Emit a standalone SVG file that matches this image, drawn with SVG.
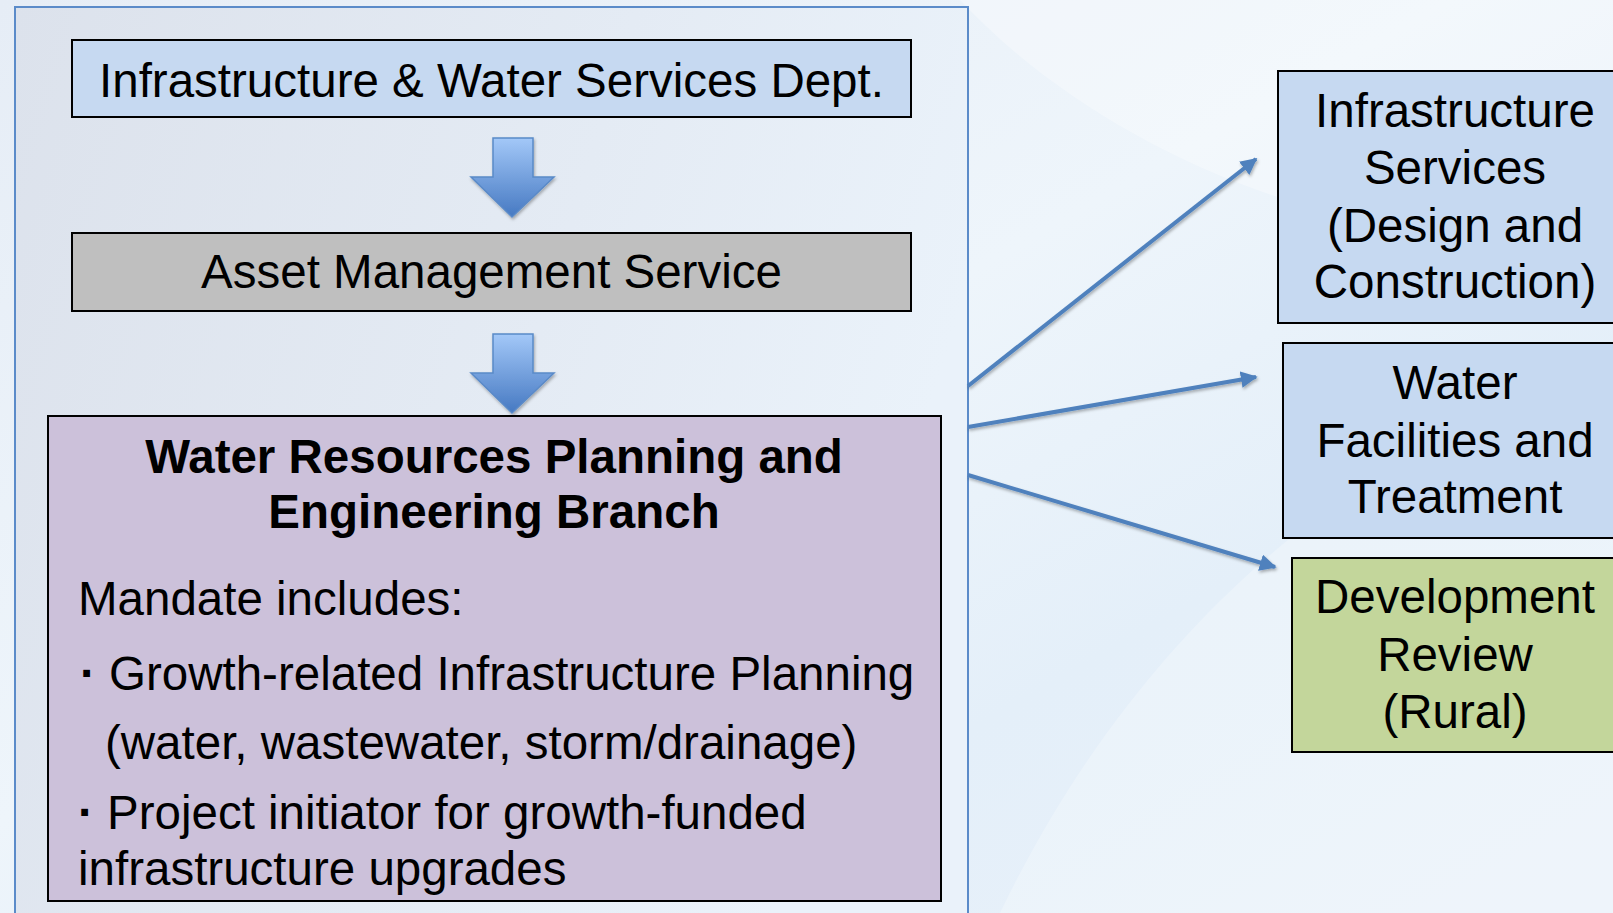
<svg xmlns="http://www.w3.org/2000/svg" width="1613" height="913" viewBox="0 0 1613 913">
<defs>
<linearGradient id="bg" x1="0" y1="0" x2="1" y2="1">
<stop offset="0" stop-color="#E6EDF6"/>
<stop offset="0.45" stop-color="#EEF5FB"/>
<stop offset="0.7" stop-color="#E4EFF9"/>
<stop offset="1" stop-color="#E9F1FA"/>
</linearGradient>
<linearGradient id="panel" x1="0" y1="0" x2="1" y2="0.3">
<stop offset="0" stop-color="#DCE2EC"/>
<stop offset="0.6" stop-color="#E4EBF4"/>
<stop offset="1" stop-color="#EAF2FA"/>
</linearGradient>
<linearGradient id="blockArrow" x1="0" y1="0" x2="0" y2="1">
<stop offset="0" stop-color="#A3C8F8"/>
<stop offset="1" stop-color="#4679C2"/>
</linearGradient>
<filter id="shadow" x="-20%" y="-20%" width="140%" height="140%">
<feDropShadow dx="1" dy="2" stdDeviation="1.5" flood-color="#000" flood-opacity="0.3"/>
</filter>
<marker id="head" viewBox="0 0 10 10" refX="9" refY="5" markerWidth="4.2" markerHeight="4.2" orient="auto" markerUnits="strokeWidth">
<path d="M0,0 L10,5 L0,10 z" fill="#4F81BD"/>
</marker>
<style>
.box{stroke:#000;stroke-width:2}
.t{font-family:"Liberation Sans",Arial,sans-serif;font-size:47.5px;fill:#000}
.c{text-anchor:middle}
.b{font-weight:bold}
.conn{stroke:#4F81BD;stroke-width:4;fill:none;marker-end:url(#head);filter:url(#shadow)}
.barrow{fill:url(#blockArrow);stroke:#5A8AC8;stroke-width:1.5;filter:url(#shadow)}
</style>
</defs>
<rect width="1613" height="913" fill="url(#bg)"/>
<path d="M1000,913 C1150,600 1400,420 1613,380 L1613,913 Z" fill="#FFFFFF" opacity="0.25"/>
<path d="M960,0 C1100,150 1350,260 1613,240 L1613,0 Z" fill="#FFFFFF" opacity="0.3"/>

<g id="panel-group">
<rect x="15" y="7" width="953" height="930" fill="url(#panel)" stroke="#5B8BC9" stroke-width="2"/>
</g>

<g id="dept">
<rect class="box" x="72" y="40" width="839" height="77" fill="#C6D9F1"/>
<text class="t c" x="491.5" y="97">Infrastructure &amp; Water Services Dept.</text>
</g>

<g id="down-arrow-1">
<path class="barrow" d="M493,138 H533 V177 H554 L512,217 L471,177 H493 Z"/>
</g>

<g id="asset">
<rect class="box" x="72" y="233" width="839" height="78" fill="#BFBFBF"/>
<text class="t c" x="491.5" y="288">Asset Management Service</text>
</g>

<g id="down-arrow-2">
<path class="barrow" d="M493,334 H533 V373 H554 L512,413 L471,373 H493 Z"/>
</g>

<g id="branch">
<rect class="box" x="48" y="416" width="893" height="485" fill="#CCC1DA"/>
<text class="t c b" x="494" y="473">Water Resources Planning and</text>
<text class="t c b" x="494" y="528">Engineering Branch</text>
<text class="t" x="78" y="615">Mandate includes:</text>
<text class="t" x="80" y="690"><tspan class="b">·</tspan> Growth-related Infrastructure Planning</text>
<text class="t" x="105" y="759">(water, wastewater, storm/drainage)</text>
<text class="t" x="78" y="829"><tspan class="b">·</tspan> Project initiator for growth-funded</text>
<text class="t" x="78" y="885">infrastructure upgrades</text>
</g>

<g id="connectors">
<line class="conn" x1="968" y1="386" x2="1256" y2="159"/>
<line class="conn" x1="968" y1="427" x2="1256" y2="377"/>
<line class="conn" x1="968" y1="475" x2="1275" y2="567"/>
</g>

<g id="infra-services">
<rect class="box" x="1278" y="71" width="360" height="252" fill="#C6D9F1"/>
<text class="t c" x="1455" y="127">Infrastructure</text>
<text class="t c" x="1455" y="184">Services</text>
<text class="t c" x="1455" y="242">(Design and</text>
<text class="t c" x="1455" y="298">Construction)</text>
</g>

<g id="water-facilities">
<rect class="box" x="1283" y="343" width="360" height="195" fill="#C6D9F1"/>
<text class="t c" x="1455" y="399">Water</text>
<text class="t c" x="1455" y="457">Facilities and</text>
<text class="t c" x="1455" y="513">Treatment</text>
</g>

<g id="dev-review">
<rect class="box" x="1292" y="558" width="360" height="194" fill="#C3D69B"/>
<text class="t c" x="1455" y="613">Development</text>
<text class="t c" x="1455" y="671">Review</text>
<text class="t c" x="1455" y="728">(Rural)</text>
</g>
</svg>
